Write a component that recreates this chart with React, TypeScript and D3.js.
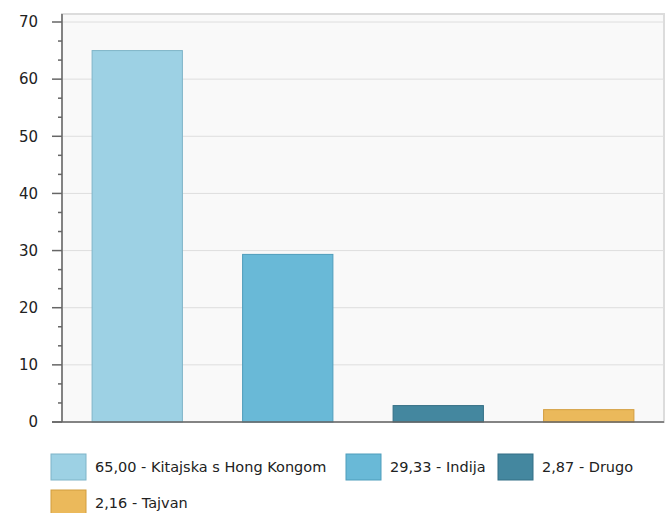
import React from "react";
import * as d3 from "d3";

const categories = ["Kitajska s Hong Kongom", "Indija", "Drugo", "Tajvan"];
const values = [65.0, 29.33, 2.87, 2.16];
const colors = ["#9dd1e4", "#69b9d7", "#44879f", "#ebb95b"];
const strokes = ["#7fb4c8", "#4f9dbb", "#336f85", "#d29d3e"];
const yTicks = [0, 10, 20, 30, 40, 50, 60, 70];

export default function App() {
  const W = 667, H = 513;
  const left = 62, right = 664, top = 14, bottom = 422;
  const x = d3.scaleBand<string>().domain(categories).range([left, right]).paddingInner(0.4).paddingOuter(0.2);
  const y = d3.scaleLinear().domain([0, 70]).range([bottom, 22]);
  const minor: number[] = [];
  for (let i = 0; i < 70; i += 10) {
    minor.push(i + 10 / 3, i + 20 / 3);
  }
  const fmt = (v: number) => v.toFixed(2).replace(".", ",");
  const legendItems = categories.map((c, i) => ({ label: `${fmt(values[i])} - ${c}`, color: colors[i], stroke: strokes[i] }));
  const legendPos = [
    { x: 51, y: 454, tx: 95 },
    { x: 346, y: 454, tx: 390 },
    { x: 498, y: 454, tx: 542 },
    { x: 51, y: 490, tx: 95 },
  ];
  return (
    <svg width={W} height={H} style={{ position: "absolute", left: 0, top: 0, background: "#fff" }}>
      <rect x={left} y={top} width={right - left} height={bottom - top} fill="#f9f9f9" stroke="#dcdcdc" strokeWidth={2} />
      {yTicks.map((t) => (
        <line key={"g" + t} x1={left} x2={right} y1={y(t)} y2={y(t)} stroke="#dedede" strokeWidth={1} />
      ))}
      {categories.map((c, i) => (
        <rect key={c} x={x(c)!} y={y(values[i])} width={x.bandwidth()} height={y(0) - y(values[i])}
          fill={colors[i]} stroke={strokes[i]} strokeWidth={1} />
      ))}
      <line x1={left} x2={left} y1={top} y2={bottom} stroke="#666" strokeWidth={1.5} />
      <line x1={52} x2={right} y1={bottom} y2={bottom} stroke="#666" strokeWidth={1.5} />
      {yTicks.map((t) => (
        <g key={"t" + t}>
          <line x1={52} x2={left} y1={y(t)} y2={y(t)} stroke="#666" strokeWidth={1.5} />
          <text x={38} y={y(t)} dy="0.35em" textAnchor="end" fontFamily="DejaVu Sans" fontSize={15} fill="#222">{t}</text>
        </g>
      ))}
      {minor.map((m, i) => (
        <line key={"m" + i} x1={58} x2={left} y1={y(m)} y2={y(m)} stroke="#666" strokeWidth={1.5} />
      ))}
      {legendItems.map((it, i) => (
        <g key={"l" + i}>
          <rect x={legendPos[i].x} y={legendPos[i].y} width={35} height={26} fill={it.color} stroke={it.stroke} strokeWidth={1} />
          <text x={legendPos[i].tx} y={legendPos[i].y + 13} dy="0.35em" fontFamily="DejaVu Sans" fontSize={14.5} fill="#222">{it.label}</text>
        </g>
      ))}
    </svg>
  );
}
